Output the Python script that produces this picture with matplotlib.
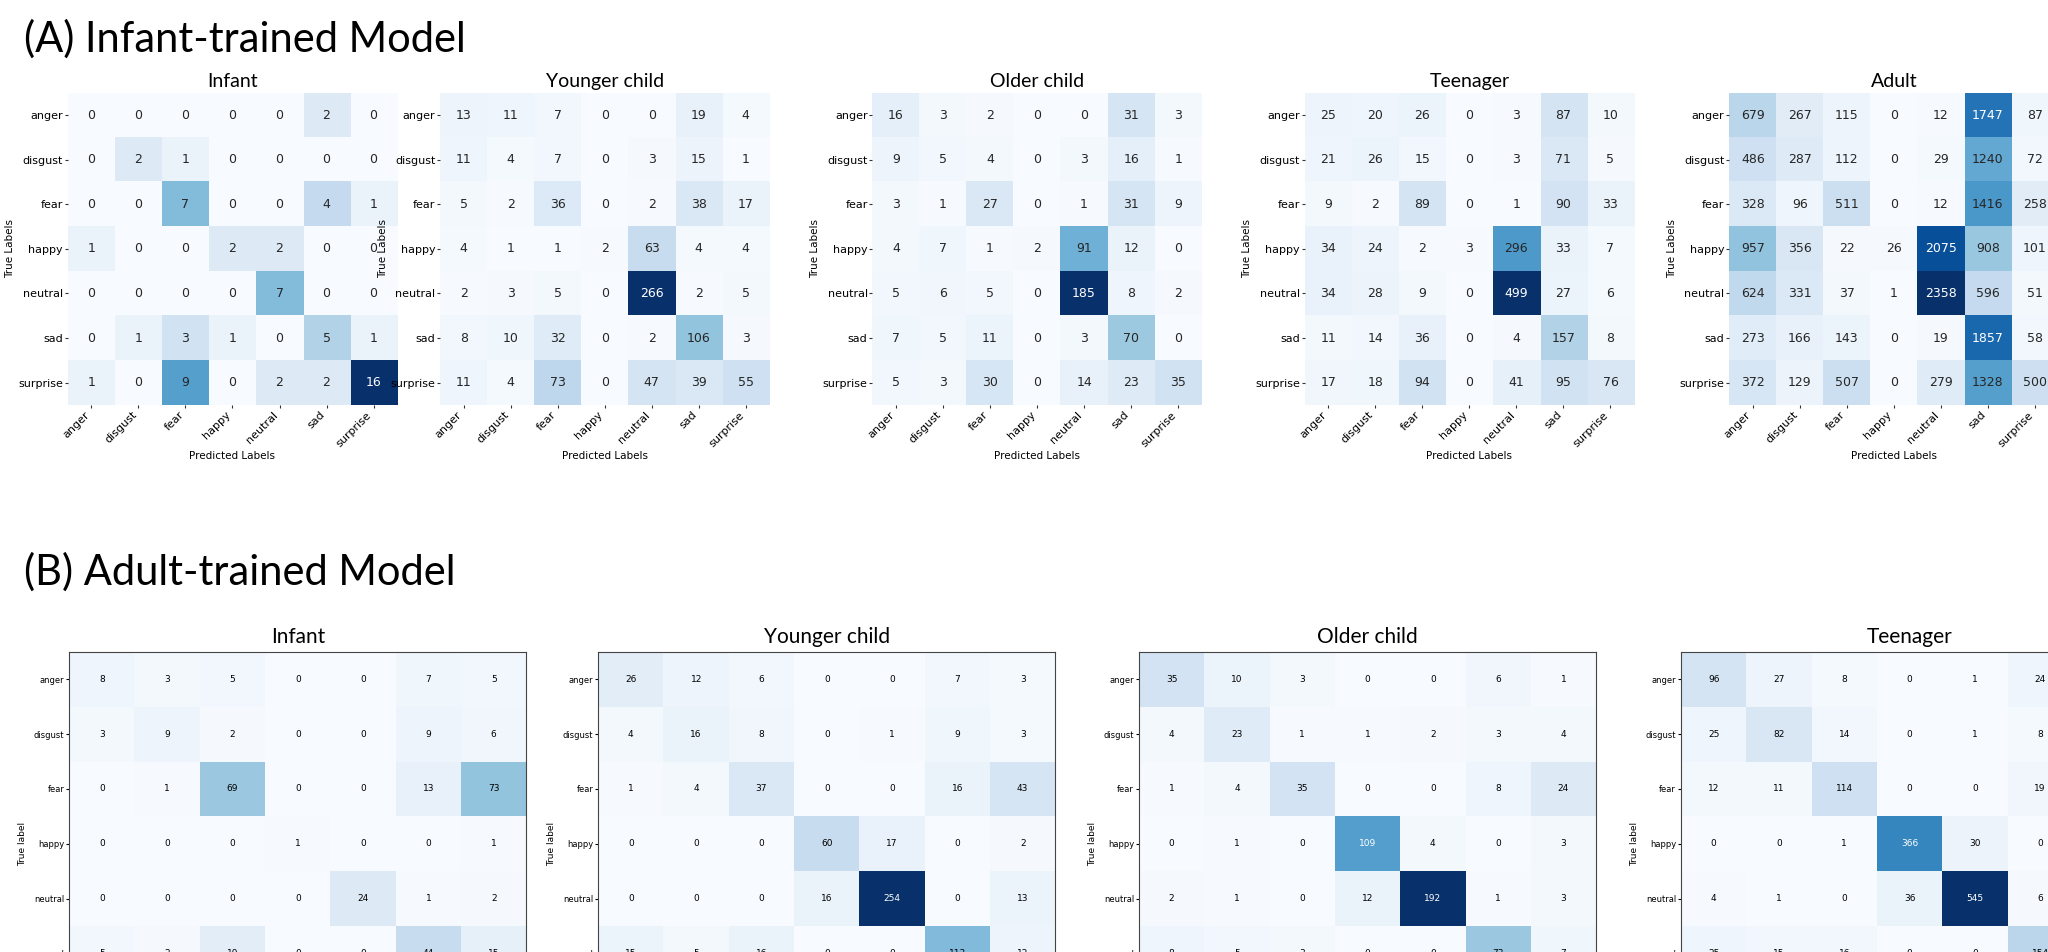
import numpy as np
import matplotlib
matplotlib.use("Agg")
import matplotlib.pyplot as plt
from matplotlib.colors import Normalize

labels = ["anger", "disgust", "fear", "happy", "neutral", "sad", "surprise"]
groups = ["Infant", "Younger child", "Older child", "Teenager", "Adult"]

# (A) infant-trained model
a_infant = [[0, 0, 0, 0, 0, 2, 0],
            [0, 2, 1, 0, 0, 0, 0],
            [0, 0, 7, 0, 0, 4, 1],
            [1, 0, 0, 2, 2, 0, 0],
            [0, 0, 0, 0, 7, 0, 0],
            [0, 1, 3, 1, 0, 5, 1],
            [1, 0, 9, 0, 2, 2, 16]]
a_younger = [[13, 11, 7, 0, 0, 19, 4],
             [11, 4, 7, 0, 3, 15, 1],
             [5, 2, 36, 0, 2, 38, 17],
             [4, 1, 1, 2, 63, 4, 4],
             [2, 3, 5, 0, 266, 2, 5],
             [8, 10, 32, 0, 2, 106, 3],
             [11, 4, 73, 0, 47, 39, 55]]
a_older = [[16, 3, 2, 0, 0, 31, 3],
           [9, 5, 4, 0, 3, 16, 1],
           [3, 1, 27, 0, 1, 31, 9],
           [4, 7, 1, 2, 91, 12, 0],
           [5, 6, 5, 0, 185, 8, 2],
           [7, 5, 11, 0, 3, 70, 0],
           [5, 3, 30, 0, 14, 23, 35]]
a_teen = [[25, 20, 26, 0, 3, 87, 10],
          [21, 26, 15, 0, 3, 71, 5],
          [9, 2, 89, 0, 1, 90, 33],
          [34, 24, 2, 3, 296, 33, 7],
          [34, 28, 9, 0, 499, 27, 6],
          [11, 14, 36, 0, 4, 157, 8],
          [17, 18, 94, 0, 41, 95, 76]]
a_adult = [[679, 267, 115, 0, 12, 1747, 87],
           [486, 287, 112, 0, 29, 1240, 72],
           [328, 96, 511, 0, 12, 1416, 258],
           [957, 356, 22, 26, 2075, 908, 101],
           [624, 331, 37, 1, 2358, 596, 51],
           [273, 166, 143, 0, 19, 1857, 58],
           [372, 129, 507, 0, 279, 1328, 500]]

# (B) adult-trained model
b_infant = [[8, 3, 5, 0, 0, 7, 5],
            [3, 9, 2, 0, 0, 9, 6],
            [0, 1, 69, 0, 0, 13, 73],
            [0, 0, 0, 1, 0, 0, 1],
            [0, 0, 0, 0, 24, 1, 2],
            [5, 2, 19, 0, 0, 44, 15],
            [2, 2, 36, 0, 6, 15, 182]]
b_younger = [[26, 12, 6, 0, 0, 7, 3],
             [4, 16, 8, 0, 1, 9, 3],
             [1, 4, 37, 0, 0, 16, 43],
             [0, 0, 0, 60, 17, 0, 2],
             [0, 0, 0, 16, 254, 0, 13],
             [15, 5, 16, 0, 0, 113, 12],
             [2, 1, 16, 0, 11, 17, 182]]
b_older = [[35, 10, 3, 0, 0, 6, 1],
           [4, 23, 1, 1, 2, 3, 4],
           [1, 4, 35, 0, 0, 8, 24],
           [0, 1, 0, 109, 4, 0, 3],
           [2, 1, 0, 12, 192, 1, 3],
           [8, 5, 3, 0, 0, 73, 7],
           [4, 1, 17, 1, 6, 5, 76]]
b_teen = [[96, 27, 8, 0, 1, 24, 15],
          [25, 82, 14, 0, 1, 8, 11],
          [12, 11, 114, 0, 0, 19, 68],
          [0, 0, 1, 366, 30, 0, 2],
          [4, 1, 0, 36, 545, 6, 11],
          [25, 15, 16, 0, 0, 154, 20],
          [5, 19, 45, 3, 16, 18, 236]]
b_adult = [[182, 52, 14, 0, 0, 33, 10],
           [47, 123, 15, 2, 1, 24, 11],
           [30, 21, 135, 0, 0, 31, 45],
           [0, 3, 0, 402, 32, 0, 8],
           [2, 0, 3, 28, 360, 1, 6],
           [39, 34, 22, 0, 0, 147, 10],
           [16, 20, 55, 4, 12, 18, 187]]

top_mats = [a_infant, a_younger, a_older, a_teen, a_adult]
bot_mats = [b_infant, b_younger, b_older, b_teen, b_adult]

# layout measured on a 1568-wide view of the reference
W, H = 1568, 952 * 1568 / 2048
fig = plt.figure(figsize=(20.48, 9.52), dpi=100)
cmap = plt.get_cmap("Blues")
title_font = "Lato"


def px_axes(x0, y0, x1, y1):
    return fig.add_axes([x0 / W, 1 - y1 / H, (x1 - x0) / W, (y1 - y0) / H])


def draw_heatmap(ax, mat, top):
    m = np.array(mat)
    norm = Normalize(vmin=m.min(), vmax=m.max())
    ax.imshow(m, cmap=cmap, norm=norm, aspect="auto", interpolation="nearest")
    for i in range(7):
        for j in range(7):
            r, g, b, _ = cmap(norm(m[i, j]))
            if top:
                lum = 0.2126 * r + 0.7152 * g + 0.0722 * b
                col = "white" if lum < 0.408 else "#262626"
                ax.text(j, i, str(m[i, j]), ha="center", va="center", fontsize=9, color=col)
            else:
                col = "white" if m[i, j] > m.max() / 2 else "black"
                ax.text(j, i, str(m[i, j]), ha="center", va="center", fontsize=6.5, color=col)
    ax.set_xticks(range(7))
    ax.set_yticks(range(7))
    if top:
        ax.set_xticklabels(labels, rotation=45, ha="right", fontsize=8)
        ax.set_yticklabels(labels, fontsize=8)
        for s in ax.spines.values():
            s.set_visible(False)
        ax.set_xlabel("Predicted Labels", fontsize=7.5, labelpad=2)
        ax.set_ylabel("True Labels", fontsize=7.5, labelpad=2)
        ax.tick_params(length=2.5, pad=1, color="#333333")
    else:
        ax.set_xticklabels(labels, rotation=60, ha="right", rotation_mode="anchor", fontsize=6)
        ax.set_yticklabels(labels, fontsize=6)
        ax.set_xlabel("Predicted label", fontsize=6.5, labelpad=6)
        ax.set_ylabel("True label", fontsize=6.5, labelpad=2)
        ax.tick_params(length=2.5, pad=1)
        for s in ax.spines.values():
            s.set_linewidth(0.8)
            s.set_color("#444444")


top_left = [52, 337, 668, 999, 1324]
for x0, mat, name in zip(top_left, top_mats, groups):
    ax = px_axes(x0, 71, x0 + 252, 310)
    draw_heatmap(ax, mat, True)
    ax.set_title(name, fontsize=14, family=title_font, pad=4)

bot_left = [53, 458, 872, 1287, 1692 - 1692 + 1701]
for x0, mat, name in zip(bot_left, bot_mats, groups):
    ax = px_axes(x0, 499, x0 + 350, 793)
    draw_heatmap(ax, mat, False)
    ax.set_title(name, fontsize=15, family=title_font, pad=6)

fig.text(18 / W, 1 - 30 / H, "(A) Infant-trained Model", fontsize=30, family=title_font, va="center")
fig.text(18 / W, 1 - 438 / H, "(B) Adult-trained Model", fontsize=30, family=title_font, va="center")

fig.savefig("out.png", dpi=100)
